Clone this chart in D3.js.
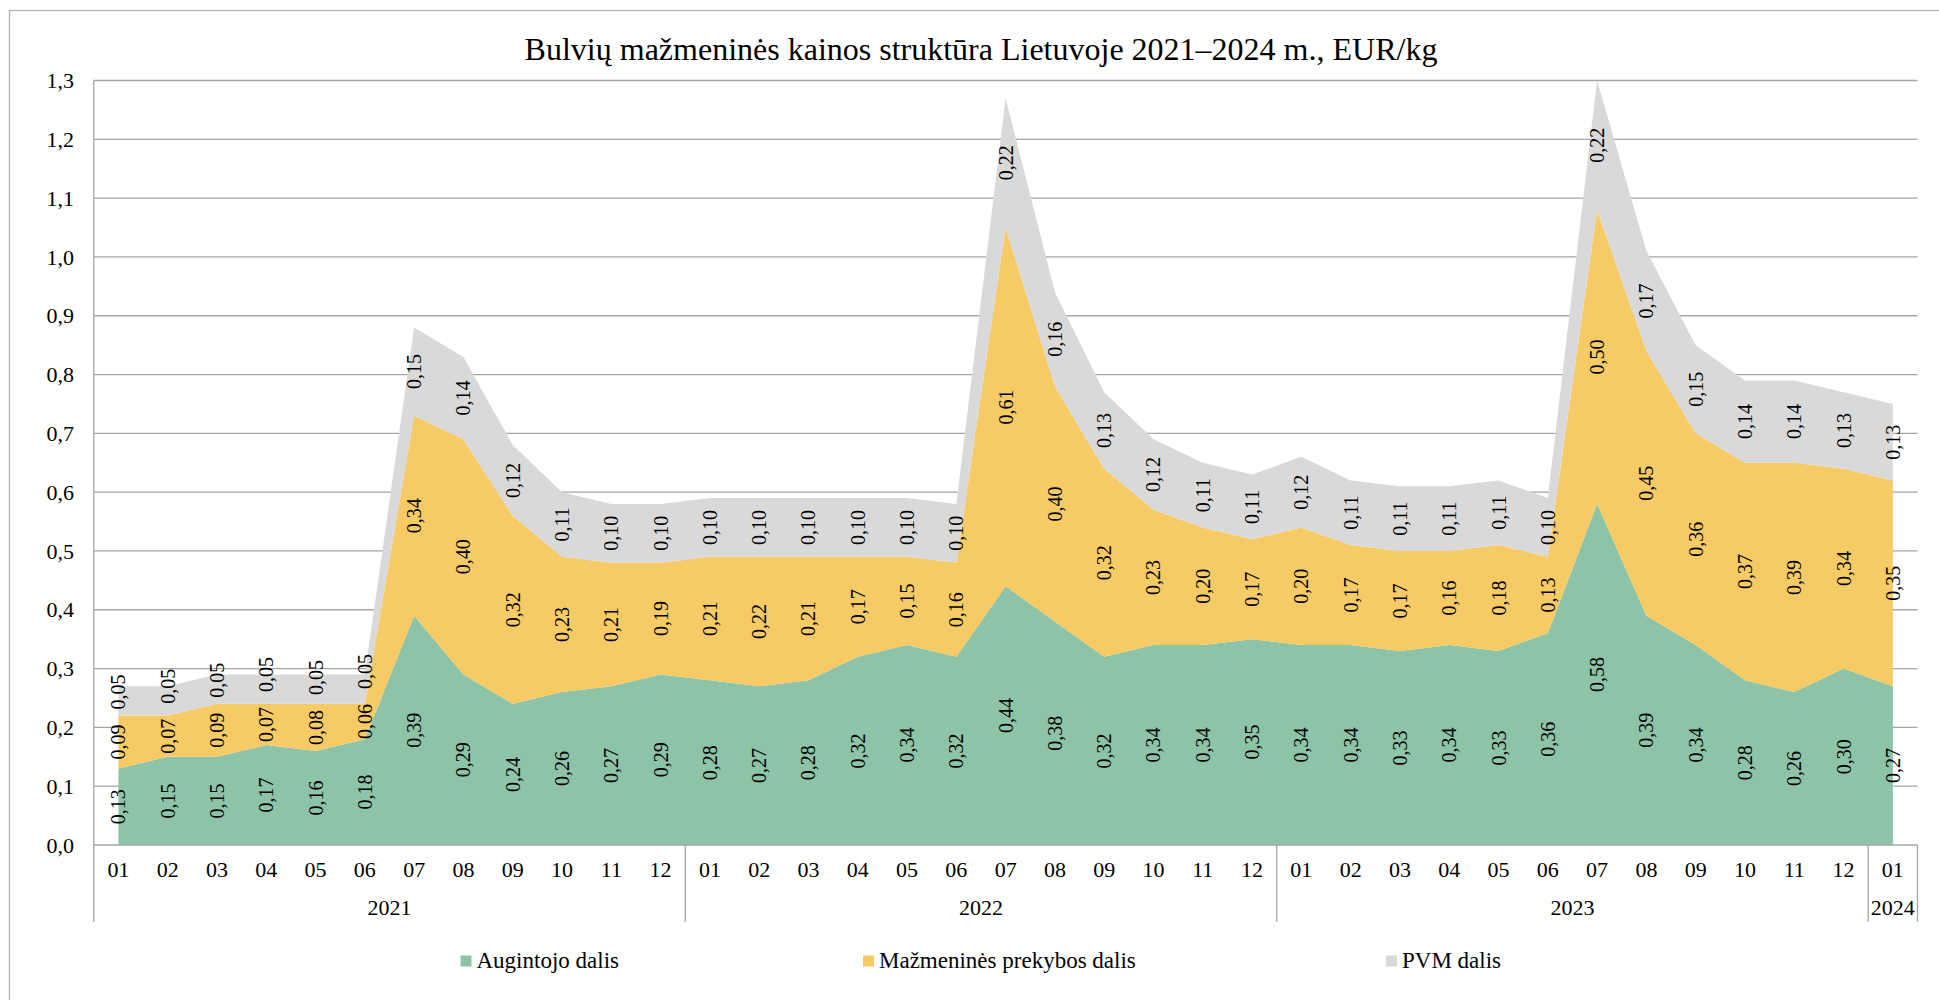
<!DOCTYPE html>
<html>
<head>
<meta charset="utf-8">
<script src="https://cdn.jsdelivr.net/npm/d3@7"></script>
<style>
  html, body { margin: 0; padding: 0; background: #ffffff; }
  svg { display: block; }
  text { font-family: "Liberation Serif", "Times New Roman", serif; fill: #000; }
</style>
</head>
<body>
<svg id="chart" width="1939" height="1000"></svg>
<script>
// ---------------- DATA ----------------
const title = "Bulvių mažmeninės kainos struktūra Lietuvoje 2021–2024 m., EUR/kg";
const months = ["01","02","03","04","05","06","07","08","09","10","11","12",
                "01","02","03","04","05","06","07","08","09","10","11","12",
                "01","02","03","04","05","06","07","08","09","10","11","12",
                "01"];
const yearGroups = [
  { label: "2021", count: 12 },
  { label: "2022", count: 12 },
  { label: "2023", count: 12 },
  { label: "2024", count: 1 }
];
const augintojo = [0.13,0.15,0.15,0.17,0.16,0.18,0.39,0.29,0.24,0.26,0.27,0.29,
                   0.28,0.27,0.28,0.32,0.34,0.32,0.44,0.38,0.32,0.34,0.34,0.35,
                   0.34,0.34,0.33,0.34,0.33,0.36,0.58,0.39,0.34,0.28,0.26,0.30,
                   0.27];
const mazmenines = [0.09,0.07,0.09,0.07,0.08,0.06,0.34,0.40,0.32,0.23,0.21,0.19,
                    0.21,0.22,0.21,0.17,0.15,0.16,0.61,0.40,0.32,0.23,0.20,0.17,
                    0.20,0.17,0.17,0.16,0.18,0.13,0.50,0.45,0.36,0.37,0.39,0.34,
                    0.35];
const pvm = [0.05,0.05,0.05,0.05,0.05,0.05,0.15,0.14,0.12,0.11,0.10,0.10,
             0.10,0.10,0.10,0.10,0.10,0.10,0.22,0.16,0.13,0.12,0.11,0.11,
             0.12,0.11,0.11,0.11,0.11,0.10,0.22,0.17,0.15,0.14,0.14,0.13,
             0.13];
const seriesNames = ["Augintojo dalis", "Mažmeninės prekybos dalis", "PVM dalis"];
const seriesColors = ["#8DC3A7", "#F6CB66", "#D9D9D9"];
const yTicks = [0.0,0.1,0.2,0.3,0.4,0.5,0.6,0.7,0.8,0.9,1.0,1.1,1.2,1.3];

// ---------------- LAYOUT ----------------
const plotL = 93.75, plotR = 1917.5, plotT = 80.5, plotB = 845;
const axisBottom = 921.7;
const fontSize = 22;
const labelFont = 20;
const legendFont = 23;
const minLabelSep = 50;

const svg = d3.select("#chart");
const fmt = v => d3.format(".2f")(v).replace(".", ",");
const fmt1 = v => d3.format(".1f")(v).replace(".", ",");

const idx = d3.range(months.length);
const x = d3.scaleBand().domain(idx).range([plotL, plotR]).paddingInner(0).paddingOuter(0);
const bw = x.bandwidth();
const cx = i => x(i) + bw / 2;
const y = d3.scaleLinear().domain([0, 1.3]).range([plotB, plotT]);

// outer border
svg.append("rect").attr("x", 9.5).attr("y", 10.5).attr("width", 2000).attr("height", 1100)
  .attr("fill", "#fff").attr("stroke", "#B3B3B3").attr("stroke-width", 1.3);

// title
svg.append("text").attr("x", 981).attr("y", 60).attr("text-anchor", "middle")
  .style("font-size", "32px").text(title);

// gridlines
svg.append("g").selectAll("line").data(yTicks.filter(t => t > 0)).join("line")
  .attr("x1", plotL).attr("x2", plotR)
  .attr("y1", d => y(d)).attr("y2", d => y(d))
  .attr("stroke", "#A6A6A6").attr("stroke-width", 1.3);

// stacked areas
const table = idx.map(i => ({ i, a: augintojo[i], m: mazmenines[i], p: pvm[i] }));
const keys = ["a", "m", "p"];
const stacked = d3.stack().keys(keys)(table);
const area = d3.area().x(d => cx(d.data.i)).y0(d => y(d[0])).y1(d => y(d[1]));
svg.append("g").selectAll("path").data(stacked).join("path")
  .attr("d", area).attr("fill", (d, k) => seriesColors[k]);

// axes lines
svg.append("line").attr("x1", plotL).attr("x2", plotL).attr("y1", plotT).attr("y2", axisBottom)
  .attr("stroke", "#A6A6A6").attr("stroke-width", 1.3);
svg.append("line").attr("x1", plotL).attr("x2", plotR).attr("y1", plotB).attr("y2", plotB)
  .attr("stroke", "#A6A6A6").attr("stroke-width", 1.3);

// group separators
let acc = 0;
const sepIdx = [];
yearGroups.forEach(g => { acc += g.count; sepIdx.push(acc); });
svg.append("g").selectAll("line").data(sepIdx).join("line")
  .attr("x1", d => d >= months.length ? plotR : x(d))
  .attr("x2", d => d >= months.length ? plotR : x(d))
  .attr("y1", plotB).attr("y2", axisBottom)
  .attr("stroke", "#A6A6A6").attr("stroke-width", 1.3);

// y tick labels
svg.append("g").selectAll("text").data(yTicks).join("text")
  .attr("x", 74).attr("y", d => y(d)).attr("dy", "0.35em")
  .attr("text-anchor", "end").style("font-size", fontSize + "px")
  .text(d => fmt1(d));

// month labels
svg.append("g").selectAll("text").data(idx).join("text")
  .attr("x", i => cx(i)).attr("y", 877).attr("text-anchor", "middle")
  .style("font-size", fontSize + "px").text(i => months[i]);

// year labels
let start = 0;
yearGroups.forEach(g => {
  const x0 = x(start);
  const x1 = (start + g.count) >= months.length ? plotR : x(start + g.count);
  svg.append("text").attr("x", (x0 + x1) / 2).attr("y", 915).attr("text-anchor", "middle")
    .style("font-size", fontSize + "px").text(g.label);
  start += g.count;
});

// data labels (centered in each segment; upper labels pushed up if they would collide)
const lab = svg.append("g");
idx.forEach(i => {
  let prevY = null;
  stacked.forEach((s) => {
    const d = s[i];
    let my = y((d[0] + d[1]) / 2);
    if (prevY !== null && my > prevY - minLabelSep) my = prevY - minLabelSep;
    prevY = my;
    lab.append("text")
      .attr("transform", `translate(${cx(i)},${my}) rotate(-90)`)
      .attr("text-anchor", "middle").attr("dy", "0.35em")
      .style("font-size", labelFont + "px")
      .text(fmt(d[1] - d[0]));
  });
});

// legend
const legendX = [460.5, 863, 1386];
const lg = svg.append("g");
seriesNames.forEach((n, k) => {
  lg.append("rect").attr("x", legendX[k]).attr("y", 955.5).attr("width", 11).attr("height", 11)
    .attr("fill", seriesColors[k]);
  lg.append("text").attr("x", legendX[k] + 16).attr("y", 968)
    .style("font-size", legendFont + "px").text(n);
});
</script>
</body>
</html>
